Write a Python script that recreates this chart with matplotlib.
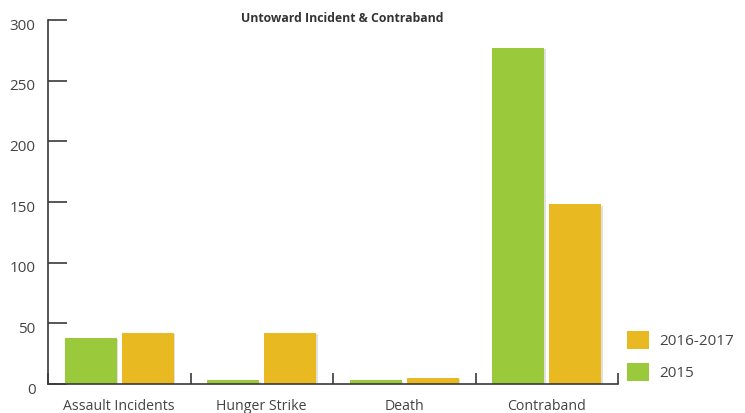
import numpy as np
import matplotlib
matplotlib.use("Agg")
import matplotlib.pyplot as plt
import matplotlib.patheffects as pe
import matplotlib.transforms as mtransforms
from matplotlib.patches import Patch

categories = ["Assault Incidents", "Hunger Strike", "Death", "Contraband"]
series_2015 = [38, 3, 3, 277]
series_2016_2017 = [42, 42, 5, 148]
y_ticks = [0, 50, 100, 150, 200, 250, 300]

green = "#9aca3c"
orange = "#e8b921"
axis_col = "#3a3a3a"
text_col = "#444444"

plt.rcParams["font.family"] = ["Open Sans", "DejaVu Sans"]

fig = plt.figure(figsize=(7.45, 4.13), dpi=100)
ax = fig.add_axes([48 / 745, 29 / 413, 570 / 745, 364 / 413])

x = np.arange(len(categories))
w = 0.365
off = 0.2
shadow = [pe.SimplePatchShadow(offset=(1, -1), shadow_rgbFace="#000000", alpha=0.12), pe.Normal()]
b1 = ax.bar(x - off, series_2015, width=w, color=green, zorder=3)
b2 = ax.bar(x + off, series_2016_2017, width=w, color=orange, zorder=3)
for b in list(b1) + list(b2):
    b.set_path_effects(shadow)

ax.set_xlim(-0.5, len(categories) - 0.5)
ax.set_ylim(0, 300)

for s in ["top", "right"]:
    ax.spines[s].set_visible(False)
for s in ["left", "bottom"]:
    ax.spines[s].set_color(axis_col)
    ax.spines[s].set_linewidth(1.2)
    ax.spines[s].set_zorder(4)

ax.set_yticks(y_ticks)
ax.set_yticklabels([str(v) for v in y_ticks])
ax.tick_params(axis="y", direction="in", length=14, width=1.2, color=axis_col,
               labelsize=11, labelcolor=text_col, pad=9)
# value labels sit slightly below their tick marks
shift = mtransforms.ScaledTranslation(0, -4 / 100, fig.dpi_scale_trans)
for lbl in ax.get_yticklabels():
    lbl.set_transform(lbl.get_transform() + shift)

# category boundaries as minor ticks, labels at centres
ax.set_xticks(x)
ax.set_xticklabels(categories)
ax.set_xticks(np.arange(len(categories) + 1) - 0.5, minor=True)
ax.tick_params(axis="x", which="major", length=0, labelsize=10.2, labelcolor=text_col, pad=11)
ax.tick_params(axis="x", which="minor", direction="in", length=8, width=1.2, color=axis_col)

fig.text(342 / 745, 1 - 18 / 413, "Untoward Incident & Contraband", ha="center", va="center",
         fontsize=8.8, fontweight="bold", color="#333333")

handles = [Patch(facecolor=orange, label="2016-2017"), Patch(facecolor=green, label="2015")]
leg = fig.legend(handles=handles, loc="center left", bbox_to_anchor=(613 / 745, 1 - 356 / 413),
                 frameon=False, fontsize=11, handlelength=1.45, handleheight=1.45,
                 labelspacing=0.95, handletextpad=0.7, labelcolor=text_col)

fig.savefig("out.png", dpi=100)
